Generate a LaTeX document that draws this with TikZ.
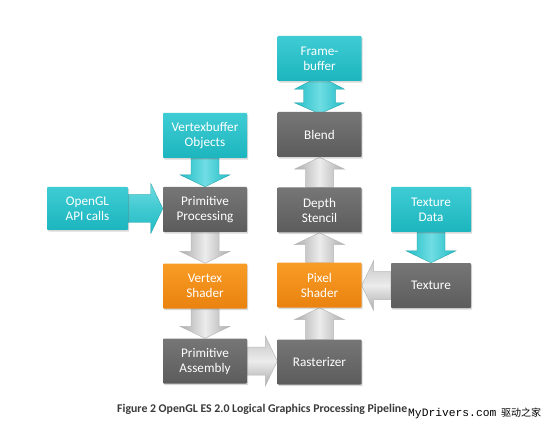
\documentclass[tikz,border=0pt]{standalone}
\usepackage{fontspec}
\setmainfont{Carlito}
\newfontfamily\cjkfont{Noto Sans CJK SC}
\newfontfamily\wmfont{Liberation Mono}
\usetikzlibrary{calc,shadows}
\pgfdeclarelayer{bg}
\pgfsetlayers{bg,main}
\definecolor{cyA}{HTML}{3FCCD4}
\definecolor{cyB}{HTML}{1CB5BE}
\definecolor{grA}{HTML}{767676}
\definecolor{grB}{HTML}{5C5C5C}
\definecolor{orA}{HTML}{F89C26}
\definecolor{orB}{HTML}{EA820F}
\definecolor{arEdge}{HTML}{ABABAB}
\definecolor{arMid}{HTML}{ECECEC}
\definecolor{caEdge}{HTML}{22BCC5}
\definecolor{caMid}{HTML}{6FDDE3}
\definecolor{captxt}{HTML}{3A3A3A}
\tikzset{
  box/.style={minimum width=84pt, minimum height=45pt, inner sep=1pt, align=center,
    text=white, font=\fontsize{13.2}{15}\selectfont, rounded corners=0.8pt,
    drop shadow={opacity=0.3, shadow xshift=1.2pt, shadow yshift=-1.6pt}},
  cyanbox/.style={box, top color=cyA, bottom color=cyB},
  graybox/.style={box, top color=grA, bottom color=grB},
  orangebox/.style={box, top color=orA, bottom color=orB},
  garrow/.style={draw=gray!55, line width=0.5pt},
  carrow/.style={draw=cyB!85!black, line width=0.3pt},
  gv/.style={garrow, left color=arEdge, right color=arEdge, middle color=arMid},
  gh/.style={garrow, top color=arEdge!70, bottom color=arEdge, middle color=arMid},
  cv/.style={carrow, left color=caEdge, right color=caEdge, middle color=caMid},
  ch/.style={carrow, top color=caMid, bottom color=caEdge, middle color=caEdge!60!caMid},
}
\def\sw{14pt}\def\hw{25pt}\def\hl{12pt}
% down arrow
\newcommand\arrD[3]{\path[#1] let \p1=(#2.south), \p2=(#3.north) in
  (\x1-\sw,\y1) -- (\x1+\sw,\y1) -- (\x1+\sw,\y2+\hl) -- (\x1+\hw,\y2+\hl) -- (\x1,\y2)
  -- (\x1-\hw,\y2+\hl) -- (\x1-\sw,\y2+\hl) -- cycle;}
% up arrow
\newcommand\arrU[3]{\path[#1] let \p1=(#2.north), \p2=(#3.south) in
  (\x1-\sw,\y1) -- (\x1+\sw,\y1) -- (\x1+\sw,\y2-\hl) -- (\x1+\hw,\y2-\hl) -- (\x1,\y2)
  -- (\x1-\hw,\y2-\hl) -- (\x1-\sw,\y2-\hl) -- cycle;}
% right arrow
\newcommand\arrR[3]{\path[#1] let \p1=(#2.east), \p2=(#3.west) in
  (\x1,\y1-\sw) -- (\x1,\y1+\sw) -- (\x2-\hl,\y1+\sw) -- (\x2-\hl,\y1+\hw) -- (\x2,\y1)
  -- (\x2-\hl,\y1-\hw) -- (\x2-\hl,\y1-\sw) -- cycle;}
% left arrow
\newcommand\arrL[3]{\path[#1] let \p1=(#2.west), \p2=(#3.east) in
  (\x1,\y1-\sw) -- (\x1,\y1+\sw) -- (\x2+\hl,\y1+\sw) -- (\x2+\hl,\y1+\hw) -- (\x2,\y1)
  -- (\x2+\hl,\y1-\hw) -- (\x2+\hl,\y1-\sw) -- cycle;}
\begin{document}
\begin{tikzpicture}[x=1pt,y=-1pt]
\useasboundingbox (0,0) rectangle (550,436);

\node[cyanbox] (fb) at (319.5,58.5) {Frame-\\buffer};
\node[graybox] (blend) at (319.5,134.5) {Blend};
\node[cyanbox] (vbo) at (205,135.5) {Vertexbuffer\\Objects};
\node[cyanbox, minimum width=81pt, minimum height=43pt] (api) at (87.5,208.5) {OpenGL\\API calls};
\node[graybox] (pp) at (205,209.5) {Primitive\\Processing};
\node[graybox] (ds) at (319.5,210) {Depth\\Stencil};
\node[cyanbox, minimum width=80pt] (td) at (431,209.5) {Texture\\Data};
\node[orangebox] (vs) at (205,286) {Vertex\\Shader};
\node[orangebox] (ps) at (319.5,285) {Pixel\\Shader};
\node[graybox, minimum width=80pt] (tex) at (431,285.5) {Texture};
\node[graybox] (pa) at (205,361) {Primitive\\Assembly};
\node[graybox] (ras) at (319.5,362) {Rasterizer};

\begin{pgfonlayer}{bg}
\fill[white] (0,0) rectangle (550,436);
% cyan inputs
\arrD{cv}{vbo}{pp}
\arrR{ch}{api}{pp}
\arrD{cv}{td}{tex}
% double arrow frame buffer <-> blend
\path[cv]
  let \p1=(fb.south), \p2=(blend.north) in
  (\x1,\y1+5pt) -- (\x1+\hw,\y1-8pt) -- (\x1+16pt,\y1-8pt) -- (\x1+16pt,\y2+9pt)
  -- (\x1+\hw,\y2+9pt) -- (\x1,\y2-2pt) -- (\x1-\hw,\y2+9pt) -- (\x1-16pt,\y2+9pt)
  -- (\x1-16pt,\y1-8pt) -- (\x1-\hw,\y1-8pt) -- cycle;
% gray pipeline arrows
\arrD{gv}{pp}{vs}
\arrD{gv}{vs}{pa}
\arrR{gh}{pa}{ras}
\arrU{gv}{ras}{ps}
\arrU{gv}{ps}{ds}
\arrU{gv}{ds}{blend}
\arrL{gh}{tex}{ps}
\end{pgfonlayer}

\node[anchor=base west, inner sep=0pt, text=captxt, font=\fontsize{11.8}{14}\selectfont\bfseries] (cap) at (117,412) {Figure 2 OpenGL ES 2.0 Logical Graphics Processing Pipeline};
\node[anchor=base west, inner sep=0pt, font=\wmfont\fontsize{11.3}{13}\selectfont] (wm) at (408,416) {MyDrivers.com};
\node[anchor=base west, inner sep=0pt, font=\cjkfont\fontsize{10}{12}\selectfont] (wmc) at (501,416) {驱动之家};
\end{tikzpicture}
\end{document}
